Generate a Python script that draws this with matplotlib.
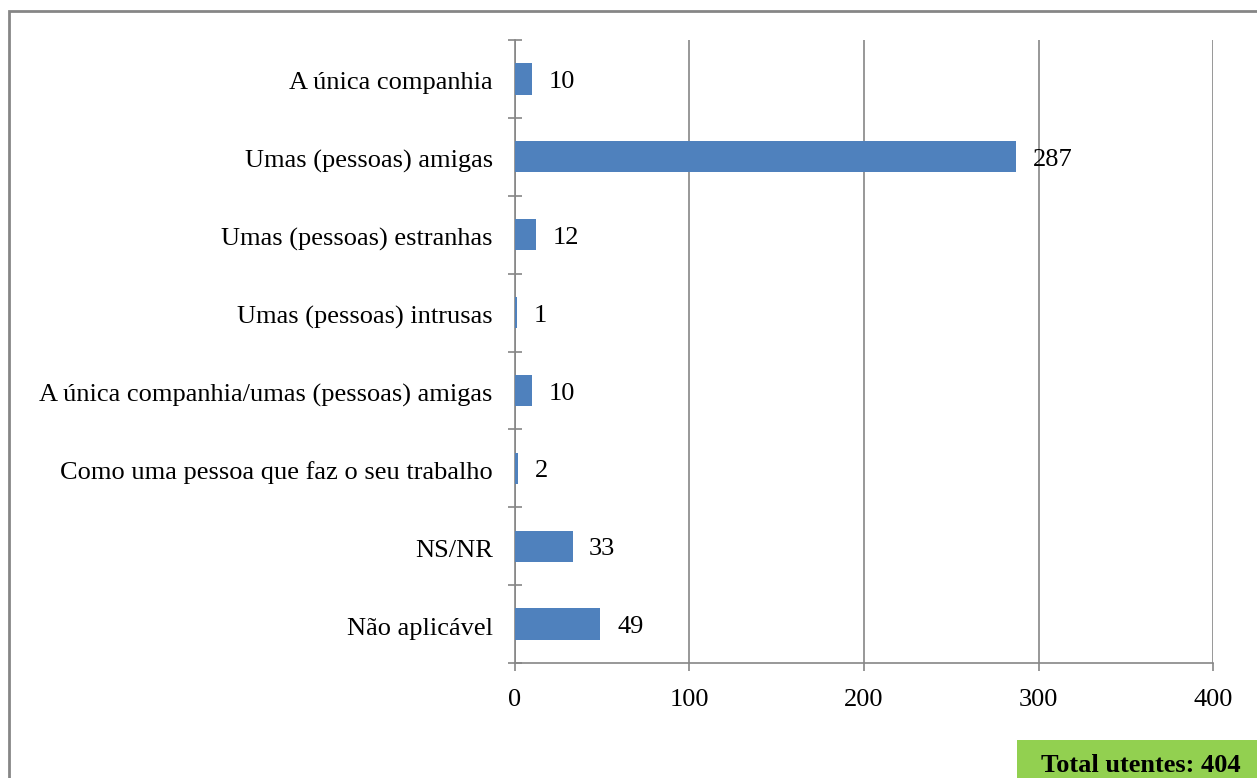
import matplotlib.pyplot as plt
import numpy as np
from matplotlib.patches import Rectangle

plt.rcParams['font.family'] = ['Liberation Serif', 'DejaVu Serif']

categories = ['A única companhia', 'Umas (pessoas) amigas', 'Umas (pessoas) estranhas',
              'Umas (pessoas) intrusas', 'A única companhia/umas (pessoas) amigas',
              'Como uma pessoa que faz o seu trabalho', 'NS/NR', 'Não aplicável']
values = [10, 287, 12, 1, 10, 2, 33, 49]
total_label = 'Total utentes: 404'

grey = '#868686'
fs = 19
fig = plt.figure(figsize=(12.57, 7.78), dpi=100)
ax = fig.add_axes([0.4097, 0.1478, 0.5553, 0.8008])

y = np.arange(len(categories))
ax.barh(y, values, height=0.4, color='#4F81BD', zorder=3)
for yi, v in zip(y, values):
    ax.text(v + 9.5, yi + 0.04, str(v), va='center', ha='left', fontsize=fs, zorder=4)

ax.set_xlim(0, 400)
ax.set_ylim(len(categories) - 0.5, -0.5)
ax.set_xticks([0, 100, 200, 300, 400])
ax.xaxis.grid(True, color=grey, linewidth=1.2, zorder=0)

ax.set_yticks(np.arange(len(categories) + 1) - 0.5)
ax.set_yticklabels([])
ax.set_yticks(y + 0.025, minor=True)
ax.set_yticklabels(categories, minor=True)
ax.tick_params(axis='y', which='major', direction='inout', length=10, color=grey, width=1.2)
ax.tick_params(axis='y', which='minor', length=0, pad=16, labelsize=fs)
ax.tick_params(axis='x', direction='out', length=6, color=grey, width=1.2, pad=13, labelsize=fs)

for s in ['top', 'right']:
    ax.spines[s].set_visible(False)
for s in ['left', 'bottom']:
    ax.spines[s].set_color(grey)
    ax.spines[s].set_linewidth(1.2)

# outer frame
fig.patches.append(Rectangle((8.5 / 1257, -0.1), 1.2, 1 - 10.5 / 778 + 0.1, transform=fig.transFigure,
                             fill=False, edgecolor=grey, linewidth=2))
# total box
fig.patches.append(Rectangle((1017 / 1257, -0.05), 0.3, (38 / 778) + 0.05, transform=fig.transFigure,
                             facecolor='#92D050', edgecolor='none'))
fig.text(1141 / 1257, 1 - 765 / 778, total_label, ha='center', va='center',
         fontsize=fs, fontweight='bold')

fig.savefig('out.png', dpi=100)
